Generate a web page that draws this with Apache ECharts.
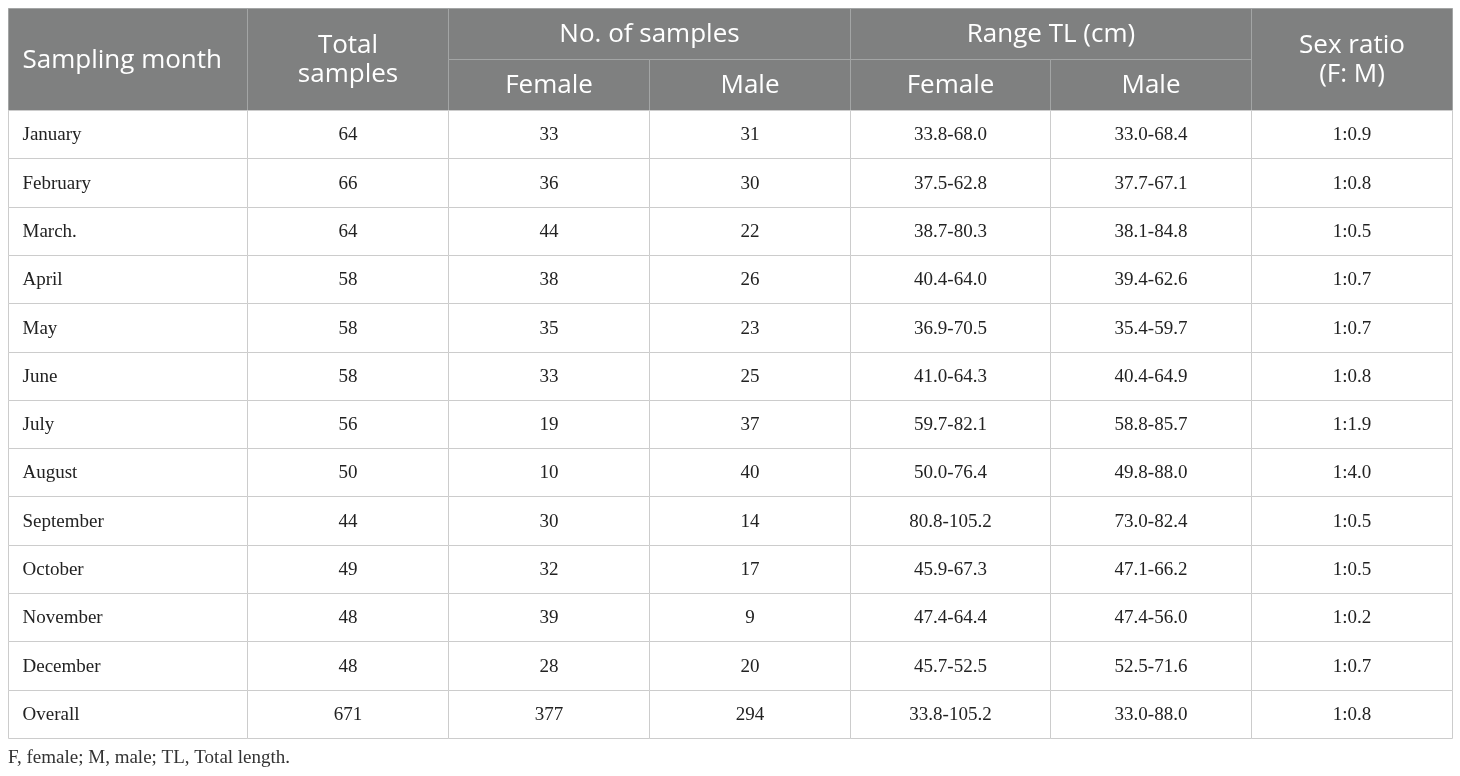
<!DOCTYPE html>
<html>
<head>
<meta charset="utf-8">
<script src="https://cdn.jsdelivr.net/npm/echarts@6.0.0/dist/echarts.min.js"></script>
<style>
  html, body { margin: 0; padding: 0; background: #fff; }
  #main { width: 1460px; height: 776px; }
</style>
</head>
<body>
<div id="main"></div>
<script>
// table content
var months = ['January', 'February', 'March.', 'April', 'May', 'June', 'July', 'August',
  'September', 'October', 'November', 'December', 'Overall'];
var totalSamples = ['64', '66', '64', '58', '58', '58', '56', '50', '44', '49', '48', '48', '671'];
var femaleCount = ['33', '36', '44', '38', '35', '33', '19', '10', '30', '32', '39', '28', '377'];
var maleCount = ['31', '30', '22', '26', '23', '25', '37', '40', '14', '17', '9', '20', '294'];
var femaleRange = ['33.8-68.0', '37.5-62.8', '38.7-80.3', '40.4-64.0', '36.9-70.5', '41.0-64.3',
  '59.7-82.1', '50.0-76.4', '80.8-105.2', '45.9-67.3', '47.4-64.4', '45.7-52.5', '33.8-105.2'];
var maleRange = ['33.0-68.4', '37.7-67.1', '38.1-84.8', '39.4-62.6', '35.4-59.7', '40.4-64.9',
  '58.8-85.7', '49.8-88.0', '73.0-82.4', '47.1-66.2', '47.4-56.0', '52.5-71.6', '33.0-88.0'];
var sexRatio = ['1:0.9', '1:0.8', '1:0.5', '1:0.7', '1:0.7', '1:0.8', '1:1.9', '1:4.0',
  '1:0.5', '1:0.5', '1:0.2', '1:0.7', '1:0.8'];

var cornerLabel = 'Sampling month';
// header cells: [col start, row start, col end, row end, text]
var headerCells = [
  [0, 0, 0, 1, 'Total\nsamples'],
  [1, 0, 2, 0, 'No. of samples'],
  [1, 1, 1, 1, 'Female'],
  [2, 1, 2, 1, 'Male'],
  [3, 0, 4, 0, 'Range TL (cm)'],
  [3, 1, 3, 1, 'Female'],
  [4, 1, 4, 1, 'Male'],
  [5, 0, 5, 1, 'Sex ratio\n(F: M)']
];
var footNote = 'F, female; M, male; TL, Total length.';

var bodyColumns = [totalSamples, femaleCount, maleCount, femaleRange, maleRange, sexRatio];
var colIdx = ['c0', 'c1', 'c2', 'c3', 'c4', 'c5'];
var headRows = ['h0', 'h1'];

var HEAD_BG = '#7f8080';
var HEAD_LINE = '#a3a5a5';
var BODY_LINE = '#cccccc';
var HEAD_FONT = '"Open Sans", "Noto Sans", sans-serif';
var BODY_FONT = '"Liberation Serif", "DejaVu Serif", serif';

function makeRender(texts, head, align) {
  return function (params, api) {
    var a = api.coord([api.value(0), api.value(1)]);
    var b = api.coord([api.value(2), api.value(3)]);
    var s = api.size([1, 1]);
    // snap both edges so neighbouring cells share one line
    var x0 = Math.round(a[0] - s[0] / 2), x1 = Math.round(b[0] + s[0] / 2);
    var y0 = Math.round(a[1] - s[1] / 2), y1 = Math.round(b[1] + s[1] / 2);
    var x = x0 + 0.5, y = y0 + 0.5, w = x1 - x0, h = y1 - y0;
    var txt = texts[params.dataIndex];
    return {
      type: 'group',
      children: [{
        type: 'rect',
        shape: { x: x, y: y, width: w, height: h },
        style: { fill: head ? HEAD_BG : '#fff', stroke: head ? HEAD_LINE : BODY_LINE, lineWidth: 1 }
      }, {
        type: 'text',
        style: {
          x: align === 'left' ? x + 14 : x + w / 2,
          y: y + h / 2 + 1,
          text: txt,
          align: align,
          verticalAlign: 'middle',
          fill: head ? '#ffffff' : '#222222',
          font: head ? '26px ' + HEAD_FONT : '19px ' + BODY_FONT,
          lineHeight: 29
        }
      }]
    };
  };
}

// build data for each part
var cornerData = [[0, 0, 0, 1]];
var headerData = headerCells.map(function (c) { return c.slice(0, 4); });
var headerTexts = headerCells.map(function (c) { return c[4]; });
var monthData = months.map(function (m, r) { return [0, r, 0, r]; });
var bodyData = [];
var bodyTexts = [];
bodyColumns.forEach(function (col, c) {
  col.forEach(function (v, r) {
    bodyData.push([c, r, c, r]);
    bodyTexts.push(v);
  });
});

var chart = echarts.init(document.getElementById('main'));

function hiddenAxis(idx, data, inverse) {
  return { type: 'category', gridIndex: idx, data: data, show: false, inverse: !!inverse };
}

chart.setOption({
  animation: false,
  title: {
    text: footNote,
    left: 8,
    top: 749,
    padding: 0,
    textStyle: { fontFamily: BODY_FONT, fontSize: 19, fontWeight: 'normal', color: '#333333' }
  },
  grid: [
    { left: 8, top: 8, width: 239, height: 102 },
    { left: 247, top: 8, width: 1205, height: 102 },
    { left: 8, top: 110, width: 239, height: 628 },
    { left: 247, top: 110, width: 1205, height: 628 }
  ],
  xAxis: [
    hiddenAxis(0, ['c']),
    hiddenAxis(1, colIdx),
    hiddenAxis(2, ['c']),
    hiddenAxis(3, colIdx)
  ],
  yAxis: [
    hiddenAxis(0, headRows, true),
    hiddenAxis(1, headRows, true),
    hiddenAxis(2, months, true),
    hiddenAxis(3, months, true)
  ],
  series: [
    { type: 'custom', xAxisIndex: 0, yAxisIndex: 0, data: cornerData,
      renderItem: makeRender([cornerLabel], true, 'left') },
    { type: 'custom', xAxisIndex: 1, yAxisIndex: 1, data: headerData,
      renderItem: makeRender(headerTexts, true, 'center') },
    { type: 'custom', xAxisIndex: 2, yAxisIndex: 2, data: monthData,
      renderItem: makeRender(months, false, 'left') },
    { type: 'custom', xAxisIndex: 3, yAxisIndex: 3, data: bodyData,
      renderItem: makeRender(bodyTexts, false, 'center') }
  ]
});
</script>
</body>
</html>
